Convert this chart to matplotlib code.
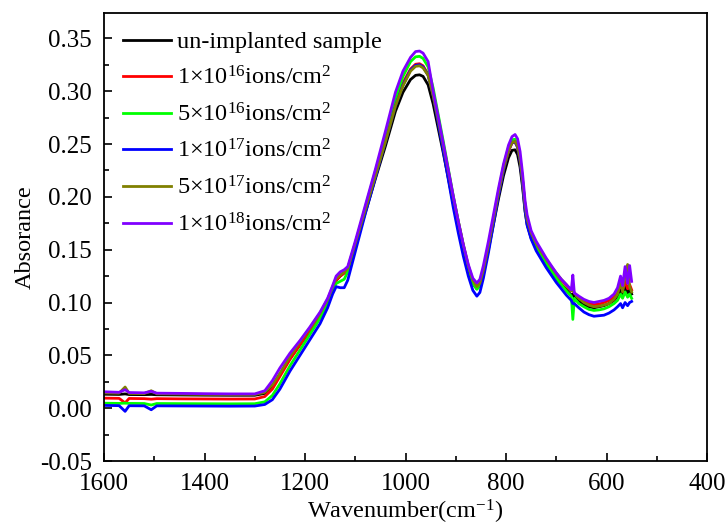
import numpy as np
import matplotlib
matplotlib.use('Agg')
import matplotlib.pyplot as plt
from matplotlib.ticker import MultipleLocator

plt.rcParams['font.family'] = ['Liberation Serif', 'DejaVu Serif']
plt.rcParams['mathtext.fontset'] = 'custom'
plt.rcParams['mathtext.rm'] = 'Liberation Serif'
plt.rcParams['mathtext.it'] = 'Liberation Serif:italic'
plt.rcParams['axes.unicode_minus'] = False

# DATA
wavenumber = [1600, 1570, 1558, 1550, 1520, 1506, 1495, 1450, 1400, 1350,
              1300, 1280, 1265, 1250, 1230, 1210, 1190, 1170, 1155, 1145,
              1138, 1130, 1122, 1115, 1100, 1080, 1060, 1040, 1020, 1005,
              990, 980, 972, 965, 955, 945, 935, 925, 915, 905,
              895, 885, 875, 866, 858, 852, 845, 835, 825, 815,
              805, 795, 788, 782, 777, 772, 767, 762, 758, 750,
              740, 730, 720, 710, 700, 690, 680, 670, 667, 664,
              655, 645, 635, 625, 615, 605, 595, 585, 578, 572,
              568, 563, 558, 554, 550]

unimplanted = [0.0132, 0.0130, 0.0135, 0.0129, 0.0128, 0.0130, 0.0127, 0.0125, 0.0123, 0.0122,
               0.0122, 0.0140, 0.0210, 0.0320, 0.0470, 0.0600, 0.0730, 0.0870, 0.1000, 0.1120,
               0.1210, 0.1250, 0.1280, 0.1310, 0.1540, 0.1850, 0.2170, 0.2480, 0.2810, 0.2990,
               0.3110, 0.3150, 0.3155, 0.3140, 0.3060, 0.2880, 0.2650, 0.2420, 0.2180, 0.1940,
               0.1710, 0.1500, 0.1310, 0.1180, 0.1130, 0.1160, 0.1280, 0.1500, 0.1740, 0.1980,
               0.2200, 0.2370, 0.2440, 0.2445, 0.2400, 0.2280, 0.2090, 0.1860, 0.1740, 0.1610,
               0.1510, 0.1430, 0.1360, 0.1290, 0.1230, 0.1170, 0.1120, 0.1070, 0.1080, 0.1050,
               0.1010, 0.0980, 0.0960, 0.0950, 0.0960, 0.0970, 0.0990, 0.1020, 0.1060, 0.1120,
               0.1080, 0.1150, 0.1090, 0.1120, 0.1080]

dose_1e16 = [0.0095, 0.0093, 0.0050, 0.0092, 0.0090, 0.0085, 0.0090, 0.0088, 0.0087, 0.0086,
             0.0087, 0.0110, 0.0180, 0.0300, 0.0460, 0.0600, 0.0740, 0.0880, 0.1010, 0.1130,
             0.1210, 0.1250, 0.1280, 0.1320, 0.1560, 0.1890, 0.2220, 0.2550, 0.2890, 0.3080,
             0.3210, 0.3255, 0.3260, 0.3240, 0.3160, 0.2970, 0.2730, 0.2490, 0.2240, 0.1990,
             0.1760, 0.1540, 0.1340, 0.1200, 0.1145, 0.1180, 0.1300, 0.1530, 0.1780, 0.2030,
             0.2260, 0.2430, 0.2510, 0.2520, 0.2470, 0.2350, 0.2150, 0.1910, 0.1780, 0.1650,
             0.1550, 0.1470, 0.1400, 0.1330, 0.1270, 0.1210, 0.1160, 0.1110, 0.1120, 0.1090,
             0.1050, 0.1010, 0.0990, 0.0980, 0.0985, 0.1000, 0.1020, 0.1050, 0.1090, 0.1180,
             0.1120, 0.1200, 0.1130, 0.1170, 0.1120]

dose_5e16 = [0.0047, 0.0045, 0.0048, 0.0045, 0.0044, 0.0030, 0.0044, 0.0043, 0.0042, 0.0041,
             0.0042, 0.0060, 0.0120, 0.0230, 0.0400, 0.0550, 0.0700, 0.0850, 0.0990, 0.1110,
             0.1180, 0.1200, 0.1220, 0.1290, 0.1550, 0.1900, 0.2240, 0.2580, 0.2930, 0.3140,
             0.3280, 0.3325, 0.3330, 0.3310, 0.3230, 0.3030, 0.2780, 0.2530, 0.2270, 0.2010,
             0.1770, 0.1540, 0.1330, 0.1180, 0.1125, 0.1160, 0.1290, 0.1530, 0.1790, 0.2050,
             0.2290, 0.2470, 0.2540, 0.2545, 0.2500, 0.2370, 0.2160, 0.1910, 0.1770, 0.1640,
             0.1530, 0.1450, 0.1370, 0.1300, 0.1230, 0.1170, 0.1110, 0.1060, 0.0840, 0.1040,
             0.0990, 0.0960, 0.0935, 0.0925, 0.0930, 0.0940, 0.0960, 0.0990, 0.1020, 0.1080,
             0.1040, 0.1100, 0.1050, 0.1080, 0.1040]

dose_1e17 = [0.0026, 0.0024, -0.0030, 0.0023, 0.0022, -0.0015, 0.0022, 0.0021, 0.0020, 0.0019,
             0.0020, 0.0035, 0.0080, 0.0180, 0.0350, 0.0500, 0.0650, 0.0800, 0.0950, 0.1080,
             0.1150, 0.1140, 0.1140, 0.1210, 0.1480, 0.1840, 0.2180, 0.2520, 0.2860, 0.3060,
             0.3200, 0.3245, 0.3250, 0.3230, 0.3150, 0.2960, 0.2700, 0.2440, 0.2170, 0.1900,
             0.1660, 0.1440, 0.1250, 0.1115, 0.1060, 0.1095, 0.1230, 0.1470, 0.1740, 0.2010,
             0.2250, 0.2440, 0.2515, 0.2520, 0.2470, 0.2340, 0.2120, 0.1870, 0.1730, 0.1600,
             0.1490, 0.1410, 0.1330, 0.1260, 0.1190, 0.1130, 0.1070, 0.1020, 0.0990, 0.0990,
             0.0950, 0.0910, 0.0885, 0.0870, 0.0875, 0.0880, 0.0900, 0.0930, 0.0960, 0.0990,
             0.0950, 0.1000, 0.0970, 0.1000, 0.1010]

dose_5e17 = [0.0145, 0.0142, 0.0200, 0.0140, 0.0138, 0.0165, 0.0136, 0.0134, 0.0131, 0.0130,
             0.0130, 0.0150, 0.0220, 0.0330, 0.0490, 0.0630, 0.0760, 0.0900, 0.1030, 0.1150,
             0.1230, 0.1260, 0.1290, 0.1320, 0.1560, 0.1880, 0.2200, 0.2520, 0.2860, 0.3050,
             0.3190, 0.3235, 0.3240, 0.3220, 0.3150, 0.2960, 0.2730, 0.2490, 0.2250, 0.2000,
             0.1770, 0.1550, 0.1350, 0.1210, 0.1150, 0.1185, 0.1310, 0.1540, 0.1790, 0.2040,
             0.2270, 0.2440, 0.2515, 0.2525, 0.2480, 0.2360, 0.2160, 0.1920, 0.1790, 0.1660,
             0.1560, 0.1480, 0.1410, 0.1340, 0.1280, 0.1220, 0.1170, 0.1110, 0.1120, 0.1090,
             0.1040, 0.1000, 0.0975, 0.0960, 0.0965, 0.0975, 0.0990, 0.1030, 0.1080, 0.1200,
             0.1100, 0.1250, 0.1360, 0.1150, 0.1100]

dose_1e18 = [0.0155, 0.0150, 0.0175, 0.0148, 0.0145, 0.0160, 0.0142, 0.0140, 0.0137, 0.0135,
             0.0135, 0.0165, 0.0260, 0.0380, 0.0520, 0.0640, 0.0770, 0.0910, 0.1040, 0.1160,
             0.1250, 0.1290, 0.1310, 0.1340, 0.1580, 0.1920, 0.2260, 0.2620, 0.2990, 0.3190,
             0.3320, 0.3375, 0.3380, 0.3360, 0.3280, 0.3000, 0.2760, 0.2510, 0.2260, 0.2010,
             0.1770, 0.1550, 0.1360, 0.1230, 0.1185, 0.1220, 0.1350, 0.1580, 0.1830, 0.2080,
             0.2310, 0.2490, 0.2570, 0.2590, 0.2550, 0.2430, 0.2220, 0.1960, 0.1830, 0.1680,
             0.1580, 0.1500, 0.1420, 0.1350, 0.1280, 0.1220, 0.1170, 0.1120, 0.1260, 0.1090,
             0.1060, 0.1030, 0.1010, 0.1000, 0.1010, 0.1020, 0.1040, 0.1080, 0.1140, 0.1250,
             0.1160, 0.1340, 0.1180, 0.1350, 0.1200]

series = [unimplanted, dose_1e16, dose_5e16, dose_1e17, dose_5e17, dose_1e18]
labels = ['un-implanted sample',
          r'1$\times$10$^{16}$ions/cm$^{2}$',
          r'5$\times$10$^{16}$ions/cm$^{2}$',
          r'1$\times$10$^{17}$ions/cm$^{2}$',
          r'5$\times$10$^{17}$ions/cm$^{2}$',
          r'1$\times$10$^{18}$ions/cm$^{2}$']
colors = ['#000000', '#ff0000', '#00ff00', '#0000ff', '#808000', '#8000ff']

fig = plt.figure(figsize=(7.28, 5.29), dpi=100)
ax = fig.add_axes([104/728, 1 - 461/529, 603/728, 448/529])

for y, lab, c in zip(series, labels, colors):
    ax.plot(wavenumber, y, color=c, lw=2.0, label=lab)

ax.set_xlim(1600, 400)
ax.set_ylim(-0.05, 0.374)
ax.xaxis.set_major_locator(MultipleLocator(200))
ax.xaxis.set_minor_locator(MultipleLocator(100))
ax.yaxis.set_major_locator(MultipleLocator(0.05))
ax.yaxis.set_minor_locator(MultipleLocator(0.025))
ax.yaxis.set_major_formatter(matplotlib.ticker.FormatStrFormatter('%.2f'))
ax.tick_params(which='major', direction='in', length=6, width=1.2, labelsize=18, pad=8.5)
ax.tick_params(which='minor', direction='in', length=3.5, width=1.2)
for sp in ax.spines.values():
    sp.set_linewidth(1.3)

ax.set_xlabel(r'Wavenumber(cm$^{-1}$)', fontsize=17.5, labelpad=2)
ax.set_ylabel('Absorance', fontsize=17.5, labelpad=3)

ax.legend(loc='upper left', bbox_to_anchor=(0.015, 0.981), borderaxespad=0, frameon=False,
          fontsize=17.5, handlelength=2.0, handletextpad=0.25, labelspacing=0.55)

fig.savefig('out.png', dpi=100)
